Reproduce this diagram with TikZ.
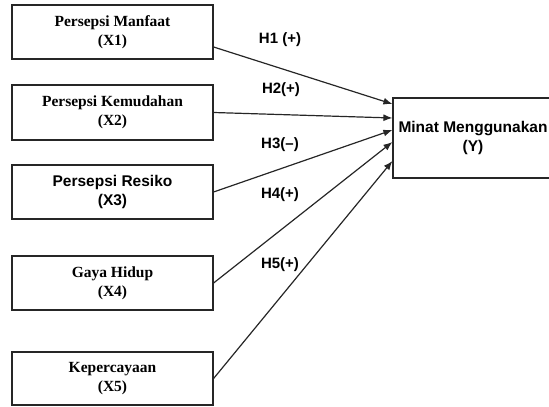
\documentclass[tikz,border=0pt]{standalone}
\usepackage{fontspec}
\setmainfont{Liberation Serif}
\setsansfont{Liberation Sans}
\usetikzlibrary{arrows.meta}
\begin{document}
\begin{tikzpicture}[x=1pt,y=1pt,
  varbox/.style={draw=black!85,line width=1.2pt,minimum width=201pt,minimum height=54pt,align=center,inner sep=0pt},
  serifvar/.style={font=\fontsize{15.5}{19}\selectfont\rmfamily\bfseries},
  sansvar/.style={font=\fontsize{15.5}{19}\selectfont\sffamily\bfseries},
  hyp/.style={font=\fontsize{15}{17}\selectfont\sffamily\bfseries},
  conn/.style={draw=black!85,line width=1.2pt,-{Latex[length=9pt,width=7pt]}}
]
\useasboundingbox (0,0) rectangle (549,407);
\clip (0,0) rectangle (549,407);
\node[varbox,serifvar] (x1) at (112.5,375) {Persepsi Manfaat\\(X1)};
\node[varbox,serifvar,minimum height=55pt] (x2) at (112.5,294.5) {Persepsi Kemudahan\\(X2)};
\node[varbox,sansvar] (x3) at (112.5,215) {Persepsi Resiko\\(X3)};
\node[varbox,serifvar] (x4) at (112.5,124) {Gaya Hidup\\(X4)};
\node[varbox,serifvar,minimum height=53pt] (x5) at (112.5,28.5) {Kepercayaan\\(X5)};
\node[varbox,sansvar,minimum width=160pt,minimum height=80pt] (y) at (473,269) {Minat Menggunakan\\(Y)};
\node[hyp] (h1) at (280,367) {H1 (+)};
\node[hyp] (h2) at (281,317) {H2(+)};
\node[hyp] (h3) at (280,262) {H3(--)};
\node[hyp] (h4) at (280,212) {H4(+)};
\node[hyp] (h5) at (280,142) {H5(+)};
\draw[conn] ([yshift=-15pt]x1.east) -- ([yshift=34pt]y.west);
\draw[conn] (x2.east) -- ([yshift=20pt]y.west);
\draw[conn] (x3.east) -- ([yshift=8pt]y.west);
\draw[conn] (x4.east) -- ([yshift=-4pt]y.west);
\draw[conn] (x5.east) -- ([yshift=-23pt]y.west);
\end{tikzpicture}
\end{document}
